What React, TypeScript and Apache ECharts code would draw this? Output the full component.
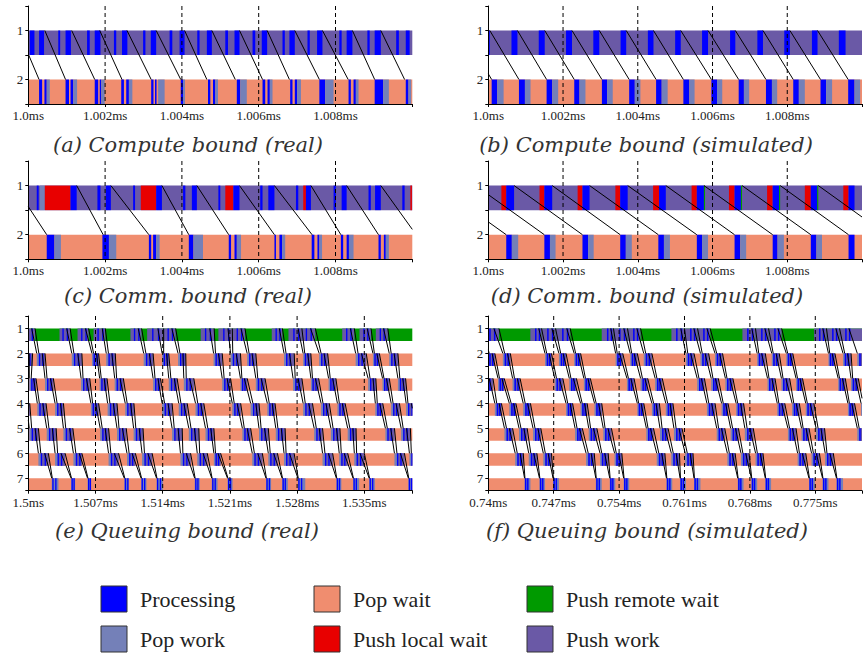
import React, { useEffect, useRef } from "react";
import * as echarts from "echarts";

// ---------------- states ----------------
const P = 0; // Processing
const W = 1; // Pop work
const A = 2; // Pop wait
const G = 3; // Push remote wait
const L = 4; // Push local wait
const U = 5; // Push work
const STATE_NAMES = ["Processing", "Pop work", "Pop wait", "Push remote wait", "Push local wait", "Push work"];
const STATE_COLORS = ["#0000ff", "#7480b8", "#f08d6f", "#009a00", "#e80000", "#6a59a6"];
const LEGEND_ORDER = [P, W, A, L, G, U];

// ---------------- tick labels / titles ----------------
const tickLabelsA = ["1.0ms", "1.002ms", "1.004ms", "1.006ms", "1.008ms"];
const tickLabelsE = ["1.5ms", "1.507ms", "1.514ms", "1.521ms", "1.528ms", "1.535ms"];
const tickLabelsF = ["0.74ms", "0.747ms", "0.754ms", "0.761ms", "0.768ms", "0.775ms"];
const rowLabels2 = ["1", "2"];
const rowLabels7 = ["1", "2", "3", "4", "5", "6", "7"];
const titles = [
  "(a) Compute bound (real)",
  "(b) Compute bound (simulated)",
  "(c) Comm. bound (real)",
  "(d) Comm. bound (simulated)",
  "(e) Queuing bound (real)",
  "(f) Queuing bound (simulated)",
];

// time unit: microseconds after the panel's first tick
type Seg = [number, number, number]; // start, end, state
type Msg = [number, number]; // send (row 1), receive (row 2)
type Cl = [number, number, number, number] | null; // start, end, 1st processing, 2nd processing

// ---------------- (a) compute bound, real ----------------
const aRow1: Seg[] = [
  [-1, 11, U],
  [0.04, 0.16, P], [0.28, 0.41, P], [0.78, 0.83, P], [0.97, 1.11, P], [1.53, 1.6, P], [1.73, 1.88, P],
  [2.23, 2.29, P], [2.44, 2.58, P], [2.99, 3.05, P], [3.19, 3.33, P], [3.68, 3.75, P], [3.94, 4.07, P],
  [4.4, 4.46, P], [4.65, 4.78, P], [5.13, 5.2, P], [5.37, 5.5, P], [5.84, 5.91, P], [6.08, 6.22, P],
  [6.62, 6.68, P], [6.8, 6.94, P], [7.27, 7.33, P], [7.52, 7.66, P], [8.1, 8.16, P], [8.29, 8.44, P],
  [8.83, 8.89, P], [9.02, 9.18, P], [9.58, 9.65, P], [9.83, 9.93, P],
];
const aRow2: Seg[] = [
  [-1, 11, A],
  [0.28, 0.36, P], [0.42, 0.48, P], [0.48, 0.56, W],
  [0.97, 1.06, P], [1.1, 1.17, P], [1.17, 1.27, W],
  [1.73, 1.82, P], [1.86, 1.9, P], [1.9, 1.99, W],
  [2.42, 2.49, P], [2.55, 2.62, P], [2.62, 2.71, W],
  [3.2, 3.26, P], [3.3, 3.34, P], [3.38, 3.55, W],
  [3.97, 4.03, P], [4.03, 4.08, W],
  [4.68, 4.74, P], [4.81, 4.87, P], [4.87, 4.94, W],
  [5.43, 5.52, P], [5.52, 5.69, W],
  [6.1, 6.17, P], [6.23, 6.29, P], [6.29, 6.36, W],
  [6.82, 6.88, P], [6.94, 7.0, P], [7.0, 7.1, W],
  [7.58, 7.73, P], [7.73, 7.95, W],
  [8.34, 8.4, P], [8.47, 8.53, P], [8.53, 8.6, W],
  [9.02, 9.24, P], [9.24, 9.39, W],
  [9.83, 9.9, P], [9.9, 9.97, W],
];
const aMsgs: Msg[] = [
  [-0.26, 0.28], [0.43, 0.97], [1.13, 1.73], [1.86, 2.44], [2.57, 3.2], [3.33, 3.97], [4.07, 4.65],
  [4.78, 5.39], [5.5, 6.1], [6.22, 6.8], [6.94, 7.58], [7.66, 8.33], [8.44, 9.02], [9.18, 9.8],
];

// ---------------- (b) compute bound, simulated ----------------
const bRow1: Seg[] = [
  [-1, 11, U],
  [-0.1, 0.04, P], [0.62, 0.78, P], [1.35, 1.51, P], [2.08, 2.24, P], [2.81, 2.97, P], [3.54, 3.69, P],
  [4.27, 4.42, P], [5.0, 5.15, P], [5.72, 5.88, P], [6.47, 6.61, P], [7.2, 7.35, P], [7.92, 8.07, P],
  [8.66, 8.81, P], [9.38, 9.56, P],
];
const bRow2: Seg[] = [
  [-1, 11, A],
  [0.09, 0.24, P], [0.24, 0.41, W], [0.82, 0.98, P], [0.98, 1.13, W], [1.56, 1.71, P], [1.71, 1.87, W],
  [2.3, 2.44, P], [2.44, 2.6, W], [3.04, 3.18, P], [3.18, 3.33, W], [3.77, 3.92, P], [3.92, 4.07, W],
  [4.49, 4.64, P], [4.64, 4.8, W], [5.22, 5.38, P], [5.38, 5.52, W], [5.97, 6.12, P], [6.12, 6.26, W],
  [6.7, 6.84, P], [6.84, 6.98, W], [7.43, 7.59, P], [7.59, 7.73, W], [8.16, 8.31, P], [8.31, 8.47, W],
  [8.89, 9.04, P], [9.04, 9.2, W], [9.63, 9.8, P], [9.8, 9.95, W],
];
const bMsgs: Msg[] = [
  [-0.69, 0.09], [0.04, 0.82], [0.78, 1.56], [1.51, 2.3], [2.24, 3.04], [2.97, 3.77], [3.69, 4.49],
  [4.42, 5.22], [5.15, 5.97], [5.88, 6.7], [6.61, 7.43], [7.35, 8.16], [8.07, 8.89], [8.81, 9.63],
];

// ---------------- (c) communication bound, real ----------------
const cRow1: Seg[] = [
  [-1, 11, U],
  [0.22, 0.27, P], [0.3, 0.43, W], [0.43, 1.1, L], [1.1, 1.26, P], [1.8, 1.88, P], [2.02, 2.15, P],
  [2.73, 2.78, P], [2.93, 3.33, L], [3.33, 3.48, P], [4.03, 4.09, P], [4.26, 4.39, P], [4.95, 5.0, P],
  [5.13, 5.34, L], [5.34, 5.5, P], [6.04, 6.1, P], [6.25, 6.41, P], [6.97, 7.03, P], [7.16, 7.23, L],
  [7.23, 7.36, P], [7.95, 8.01, P], [8.16, 8.29, P], [8.86, 8.92, P], [9.03, 9.18, P], [9.74, 9.8, P],
  [9.95, 9.99, L],
];
const cRow2: Seg[] = [
  [-1, 11, A],
  [0.48, 0.68, P], [0.68, 0.85, W],
  [1.93, 2.1, P], [2.1, 2.29, W],
  [3.14, 3.2, P], [3.25, 3.33, P], [3.33, 3.42, W],
  [4.18, 4.3, P], [4.3, 4.55, W],
  [5.22, 5.28, P], [5.37, 5.43, P], [5.43, 5.54, W],
  [6.41, 6.45, P], [6.54, 6.61, P], [6.61, 6.69, W],
  [7.38, 7.45, P], [7.53, 7.58, P], [7.58, 7.65, W],
  [8.14, 8.2, P], [8.29, 8.35, P], [8.35, 8.47, W],
  [9.12, 9.18, P], [9.26, 9.31, P], [9.31, 9.39, W],
];
const cMsgs: Msg[] = [
  [-0.36, 0.48], [1.26, 1.95], [2.15, 3.14], [3.48, 4.18], [4.39, 5.22], [5.5, 6.41], [6.41, 7.39],
  [7.36, 8.14], [8.29, 9.12], [9.18, 10.1],
];

// ---------------- (d) communication bound, simulated ----------------
const dRow1: Seg[] = [
  [-1, 11, U],
  [0.35, 0.48, L], [0.48, 0.69, P], [1.37, 1.5, L], [1.5, 1.71, P], [2.39, 2.52, L], [2.52, 2.71, P],
  [3.4, 3.53, L], [3.53, 3.73, P], [4.41, 4.57, L], [4.57, 4.75, P],
  [5.44, 5.58, L], [5.58, 5.77, P], [5.77, 5.8, G], [6.44, 6.59, L], [6.59, 6.76, P], [6.76, 6.79, G],
  [7.46, 7.61, L], [7.61, 7.78, P], [7.78, 7.81, G], [8.47, 8.63, L], [8.63, 8.8, P], [8.8, 8.83, G],
  [9.5, 9.64, L], [9.64, 9.8, P],
];
const dRow2: Seg[] = [
  [-1, 11, A],
  [0.48, 0.63, P], [0.63, 0.8, W], [1.5, 1.65, P], [1.65, 1.8, W], [2.52, 2.67, P], [2.67, 2.82, W],
  [3.53, 3.68, P], [3.68, 3.84, W], [4.55, 4.7, P], [4.7, 4.86, W], [5.58, 5.72, P], [5.72, 5.88, W],
  [6.59, 6.74, P], [6.74, 6.9, W], [7.61, 7.74, P], [7.74, 7.91, W], [8.63, 8.78, P], [8.78, 8.93, W],
  [9.64, 9.8, P],
];
const dMsgs: Msg[] = [
  [-1.36, 0.48], [-0.34, 1.5], [0.69, 2.52], [1.71, 3.53], [2.71, 4.55], [3.73, 5.58], [4.75, 6.59],
  [5.77, 7.61], [6.79, 8.63], [7.81, 9.64], [8.83, 10.66],
];

// ---------------- (e) queuing bound, real: work clusters per node, aligned by message group ----------------
const eNode1: Cl[] = [
  [-4.7, -3.5, -4.3, -3.9], [-2.2, -1.1, -1.8, -1.4], [-0.5, 0.7, -0.1, 0.35],
  [3.25, 4.36, 3.55, 4.0], [5.13, 6.28, 5.5, 5.95], [6.8, 8.02, 7.2, 7.7],
  [10.64, 11.8, 11.0, 11.45], [12.38, 14.1, 12.9, 13.5], [14.1, 15.35, 14.5, 14.95],
  [17.96, 19.36, 18.4, 18.9], [19.8, 21.25, 20.3, 20.8], [21.25, 22.57, 21.7, 22.15],
  [25.36, 26.47, 25.75, 26.15], [27.1, 28.5, 27.6, 28.1], [28.5, 29.9, 28.9, 29.4],
  [32.7, 33.96, 33.1, 33.55], [34.5, 35.7, 34.9, 35.3], [36.2, 37.45, 36.6, 37.0],
];
const eNode2: Cl[] = [
  [-3.3, -2.4, -3.0, -2.7], [-0.45, 0.45, -0.2, 0.1], [0.88, 1.74, 1.1, 1.45],
  [4.53, 5.58, 4.75, 5.15], [6.63, 7.32, 6.8, 7.1], [8.12, 9.06, 8.35, 8.7],
  [12.02, 13.0, 12.25, 12.6], [13.94, 14.63, 14.1, 14.4], [15.6, 16.4, 15.8, 16.1],
  [19.3, 20.2, 19.5, 19.8], [21.07, 22.1, 21.3, 21.65], [22.8, 23.7, 23.0, 23.3],
  [26.64, 27.7, 26.85, 27.2], [28.63, 29.43, 28.8, 29.1], [30.3, 31.18, 30.5, 30.8],
  [34.1, 35.2, 34.35, 34.7], [35.9, 36.57, 36.05, 36.3], [37.6, 38.5, 37.8, 38.1],
];
const eNode3: Cl[] = [
  [-2.3, -1.4, -2.0, -1.7], [0.1, 0.8, 0.3, 0.55], [1.74, 2.61, 1.95, 2.3],
  [5.5, 6.4, 5.7, 6.05], [7.43, 8.2, 7.6, 7.9], [9.0, 9.9, 9.2, 9.55],
  [13.0, 13.76, 13.2, 13.5], [14.63, 15.5, 14.85, 15.2], [16.2, 17.24, 16.45, 16.8],
  [20.2, 21.07, 20.4, 20.7], [22.1, 22.8, 22.25, 22.5], [23.7, 24.66, 23.9, 24.25],
  [27.58, 28.5, 27.8, 28.1], [29.44, 30.24, 29.6, 29.9], [31.28, 32.04, 31.45, 31.7],
  [35.4, 36.2, 35.6, 35.9], [36.9, 37.6, 37.05, 37.3], [38.5, 39.3, 38.7, 39.0],
];
const eNode4: Cl[] = [
  [-0.8, 0.15, -0.5, -0.2], [0.94, 1.85, 1.15, 1.5], [2.79, 3.66, 3.0, 3.35],
  [6.52, 7.32, 6.7, 7.0], [8.26, 9.24, 8.5, 8.85], [10.1, 11.0, 10.3, 10.65],
  [13.94, 14.98, 14.2, 14.55], [15.67, 16.55, 15.9, 16.2], [17.42, 18.28, 17.65, 17.95],
  [21.25, 22.12, 21.45, 21.75], [23.16, 24.03, 23.4, 23.7], [24.9, 25.7, 25.1, 25.4],
  [28.63, 29.6, 28.85, 29.2], [30.5, 31.35, 30.7, 31.0], [32.2, 33.0, 32.4, 32.7],
  [36.15, 36.92, 36.35, 36.6], [37.8, 38.66, 38.0, 38.3], [39.36, 40.3, 39.55, 39.9],
];
const eNode5: Cl[] = [
  [0.1, 1.05, 0.35, 0.7], [1.92, 2.9, 2.15, 2.5], [3.66, 4.64, 3.9, 4.3],
  [7.49, 8.36, 7.7, 8.0], [9.24, 10.2, 9.45, 9.8], [10.97, 11.95, 11.2, 11.55],
  [14.98, 16.03, 15.2, 15.6], [16.72, 17.76, 16.95, 17.3], [18.46, 19.33, 18.7, 19.0],
  [22.3, 23.16, 22.5, 22.8], [24.03, 25.0, 24.25, 24.6], [25.78, 26.75, 26.0, 26.35],
  [29.78, 30.65, 30.0, 30.3], [31.52, 32.46, 31.75, 32.1], [33.27, 34.14, 33.5, 33.8],
  [37.2, 38.14, 37.4, 37.75], [38.84, 39.8, 39.05, 39.4], [40.4, 41.3, 40.6, 40.9],
];
const eNode6: Cl[] = [
  [1.05, 2.09, 1.3, 1.7], [2.79, 3.83, 3.05, 3.4], [4.7, 5.58, 4.95, 5.3],
  [8.36, 9.4, 8.6, 8.95], [10.28, 11.15, 10.5, 10.8], [11.85, 12.9, 12.1, 12.45],
  [15.85, 16.9, 16.1, 16.45], [17.6, 18.64, 17.85, 18.2], [19.33, 20.03, 19.5, 19.75],
  [23.33, 24.38, 23.55, 23.9], [25.0, 25.95, 25.2, 25.55], [26.64, 27.69, 26.85, 27.2],
  [30.65, 31.7, 30.9, 31.25], [32.39, 33.27, 32.6, 32.9], [33.96, 35.0, 34.2, 34.55],
  [38.14, 39.18, 38.4, 38.75], [39.7, 40.6, 39.9, 40.2], [41.4, 42.3, 41.6, 41.9],
];
const eNode7: Cl[] = [
  [2.44, 3.14, 2.5, 2.8], [4.46, 4.88, 4.5, 4.7], [6.17, 6.52, 6.22, 6.4],
  [10.0, 10.46, 10.05, 10.3], [11.75, 12.31, 11.8, 12.05], [13.36, 14.02, 13.4, 13.7],
  [17.33, 17.86, 17.38, 17.6], [19.11, 19.71, 19.15, 19.4], [20.75, 21.28, 20.8, 21.0],
  [24.76, 25.29, 24.8, 25.05], [26.44, 27.03, 26.48, 26.7], [28.08, 28.85, 28.12, 28.4],
  [32.09, 32.61, 32.13, 32.35], [33.83, 34.46, 33.87, 34.1], [35.51, 36.1, 35.55, 35.8],
  [39.59, 40.1, 39.63, 39.85], [41.2, 41.7, 41.25, 41.45], [43.0, 43.5, 43.05, 43.3],
];

// ---------------- (f) queuing bound, simulated ----------------
const fNode1: Cl[] = [
  [-3.0, -1.8, -2.6, -2.2], [-1.8, -0.6, -1.4, -1.0], [-0.6, 1.14, 0.1, 0.6],
  [4.5, 5.7, 5.0, 5.4], [5.7, 7.2, 6.3, 6.8], [7.2, 8.77, 7.9, 8.4],
  [12.14, 13.4, 12.7, 13.1], [13.4, 14.9, 14.0, 14.5], [14.9, 16.3, 15.5, 15.9],
  [19.6, 21.0, 20.1, 20.6], [21.0, 22.4, 21.6, 22.0], [22.4, 23.75, 23.0, 23.4],
  [27.2, 28.6, 27.7, 28.2], [28.6, 30.0, 29.2, 29.6], [30.0, 31.4, 30.6, 31.0],
  [34.87, 36.2, 35.4, 35.8], [36.2, 37.6, 36.8, 37.2], [37.6, 40.5, 38.2, 38.6],
];
const fNode2: Cl[] = [
  [-1.6, -0.85, -1.4, -1.15], [-0.1, 0.7, 0.1, 0.4], [1.56, 2.36, 1.75, 2.05],
  [6.07, 6.76, 6.25, 6.5], [7.56, 8.32, 7.75, 8.0], [9.19, 9.88, 9.35, 9.6],
  [13.63, 14.39, 13.8, 14.05], [15.19, 15.95, 15.35, 15.6], [16.64, 17.51, 16.85, 17.15],
  [21.15, 22.02, 21.35, 21.65], [22.71, 23.58, 22.9, 23.2], [24.27, 25.07, 24.45, 24.75],
  [28.78, 29.65, 28.95, 29.25], [30.34, 31.14, 30.5, 30.8], [31.9, 32.59, 32.05, 32.3],
  [36.41, 37.1, 36.55, 36.8], [37.97, 38.83, 38.15, 38.45], [39.5, 40.3, 39.7, 40.0],
];
const fNode3: Cl[] = [
  [-0.4, 0.5, -0.2, 0.1], [1.04, 1.7, 1.2, 1.45], [2.6, 3.4, 2.8, 3.1],
  [7.11, 7.98, 7.3, 7.6], [8.67, 9.43, 8.85, 9.1], [10.23, 10.92, 10.4, 10.65],
  [14.84, 15.6, 15.0, 15.25], [16.3, 17.06, 16.5, 16.75], [17.86, 18.62, 18.05, 18.3],
  [22.36, 23.13, 22.55, 22.8], [23.86, 24.62, 24.05, 24.3], [25.38, 26.18, 25.55, 25.85],
  [29.89, 30.69, 30.05, 30.35], [31.38, 32.25, 31.55, 31.85], [32.94, 33.63, 33.1, 33.35],
  [37.45, 38.21, 37.6, 37.9], [38.83, 39.6, 39.0, 39.3], [40.5, 41.3, 40.7, 41.0],
];
const fNode4: Cl[] = [
  [0.7, 1.4, 0.9, 1.15], [2.25, 2.95, 2.45, 2.7], [3.74, 4.51, 3.95, 4.2],
  [8.32, 9.02, 8.5, 8.75], [9.88, 10.58, 10.05, 10.3], [11.37, 12.14, 11.55, 11.8],
  [15.95, 16.64, 16.1, 16.35], [17.51, 18.31, 17.7, 17.95], [19.0, 19.76, 19.2, 19.45],
  [23.4, 24.27, 23.6, 23.9], [24.97, 25.66, 25.15, 25.4], [26.53, 27.32, 26.7, 27.0],
  [30.93, 31.73, 31.1, 31.4], [32.52, 33.29, 32.7, 32.95], [33.98, 34.85, 34.15, 34.45],
  [38.49, 39.2, 38.65, 38.9], [39.9, 40.7, 40.1, 40.4], [41.6, 42.4, 41.8, 42.1],
];
const fNode5: Cl[] = [
  [1.73, 2.6, 1.95, 2.25], [3.29, 4.16, 3.5, 3.8], [4.79, 5.62, 5.0, 5.3],
  [9.29, 10.06, 9.5, 9.75], [10.75, 11.62, 10.95, 11.25], [12.31, 13.18, 12.5, 12.8],
  [16.92, 17.68, 17.1, 17.35], [18.38, 19.24, 18.6, 18.9], [19.87, 20.73, 20.1, 20.4],
  [24.45, 25.31, 24.65, 24.95], [25.94, 26.77, 26.15, 26.45], [27.46, 28.36, 27.7, 28.0],
  [32.07, 32.94, 32.25, 32.55], [33.53, 34.33, 33.7, 34.0], [35.09, 35.99, 35.3, 35.6],
  [39.5, 40.4, 39.7, 40.0], [41.0, 41.8, 41.2, 41.5], [42.6, 43.4, 42.8, 43.1],
];
const fNode6: Cl[] = [
  [2.88, 3.74, 3.1, 3.4], [4.33, 5.2, 4.55, 4.85], [5.89, 6.76, 6.1, 6.4],
  [10.47, 11.34, 10.7, 11.0], [11.96, 12.83, 12.15, 12.45], [13.52, 14.29, 13.7, 13.95],
  [18.03, 18.9, 18.25, 18.55], [19.59, 20.46, 19.8, 20.1], [21.08, 21.91, 21.3, 21.6],
  [25.59, 26.42, 25.8, 26.1], [27.05, 27.91, 27.25, 27.55], [28.61, 29.4, 28.8, 29.1],
  [33.11, 33.98, 33.3, 33.6], [34.6, 35.44, 34.8, 35.1], [36.06, 36.93, 36.25, 36.55],
  [40.6, 41.4, 40.8, 41.1], [42.1, 42.9, 42.3, 42.6], [43.7, 44.5, 43.9, 44.2],
];
const fNode7: Cl[] = [
  [3.88, 4.51, 3.92, 4.15], [5.48, 6.07, 5.52, 5.75], [6.93, 7.56, 6.97, 7.2],
  [11.51, 12.14, 11.55, 11.8], [13.0, 13.59, 13.04, 13.25], [14.49, 15.08, 14.53, 14.75],
  [19.07, 19.69, 19.11, 19.35], [20.53, 21.15, 20.57, 20.8], [22.02, 22.71, 22.06, 22.3],
  [26.7, 27.32, 26.74, 26.95], [28.16, 28.78, 28.2, 28.42], [29.65, 30.27, 29.69, 29.9],
  [34.33, 34.95, 34.37, 34.6], [35.78, 36.41, 35.82, 36.05], [37.27, 37.97, 37.31, 37.55],
  [41.6, 42.2, 41.64, 41.85], [43.2, 43.8, 43.24, 43.45], [44.7, 45.3, 44.74, 44.95],
];

// ---------------- layout (style, not data) ----------------
const PLOT_W = 384;
const TICK_FONT = "'Liberation Serif', 'Times New Roman', serif";
const TITLE_FONT = "'DejaVu Serif', serif";

type Panel = {
  left: number; top: number; height: number; max: number; interval: number;
  ticks: string[]; rowLabels: string[]; titleX: number; titleY: number;
  segs: number[][]; lines: number[][];
};

function simpleSegs(rows: Seg[][]) {
  const out: number[][] = [];
  rows.forEach((row, ri) => row.forEach(([s, e, st]) => out.push([ri + 1, s, e, st])));
  return out;
}
function simpleLines(msgs: Msg[]) {
  return msgs.map(([t0, t1]) => [t0, 1, t1, 2]);
}
function clusterSegs(nodes: Cl[][], procW: number) {
  const out: number[][] = [];
  const n = nodes.length;
  nodes.forEach((row, ri) => {
    const r = ri + 1;
    out.push([r, -5, 50, r === 1 ? G : A]);
    row.forEach((c) => {
      if (!c) return;
      const [s, e, b1, b2] = c;
      if (r === 1) out.push([r, s, e, U]);
      else if (r === n) out.push([r, s, e, W]);
      else {
        out.push([r, s, e, W]);
        out.push([r, b1, e, U]);
      }
      out.push([r, b1, b1 + procW, P]);
      out.push([r, b2, b2 + procW, P]);
    });
  });
  return out;
}
// messages hop from one node's cluster to the same group's cluster on the next node
function clusterLines(nodes: Cl[][]) {
  const out: number[][] = [];
  for (let k = 0; k < nodes.length - 1; k++) {
    const a = nodes[k], b = nodes[k + 1];
    for (let g = 0; g < a.length; g++) {
      const c0 = a[g], c1 = b[g];
      if (!c0 || !c1) continue;
      out.push([c0[3], k + 1, c1[0], k + 2]);
      out.push([c0[1], k + 1, c1[2], k + 2]);
    }
  }
  return out;
}

const eNodes = [eNode1, eNode2, eNode3, eNode4, eNode5, eNode6, eNode7];
const fNodes = [fNode1, fNode2, fNode3, fNode4, fNode5, fNode6, fNode7];

const PANELS: Panel[] = [
  { left: 28.3, top: 6, height: 98, max: 10, interval: 2, ticks: tickLabelsA, rowLabels: rowLabels2, titleX: 188, titleY: 145,
    segs: simpleSegs([aRow1, aRow2]), lines: simpleLines(aMsgs) },
  { left: 488.3, top: 6, height: 98, max: 10, interval: 2, ticks: tickLabelsA, rowLabels: rowLabels2, titleX: 646, titleY: 145,
    segs: simpleSegs([bRow1, bRow2]), lines: simpleLines(bMsgs) },
  { left: 28.3, top: 161, height: 98.3, max: 10, interval: 2, ticks: tickLabelsA, rowLabels: rowLabels2, titleX: 188, titleY: 296,
    segs: simpleSegs([cRow1, cRow2]), lines: simpleLines(cMsgs) },
  { left: 488.3, top: 161, height: 98.3, max: 10, interval: 2, ticks: tickLabelsA, rowLabels: rowLabels2, titleX: 647, titleY: 296,
    segs: simpleSegs([dRow1, dRow2]), lines: simpleLines(dMsgs) },
  { left: 28.3, top: 316, height: 174.7, max: 40, interval: 7, ticks: tickLabelsE, rowLabels: rowLabels7, titleX: 187, titleY: 531,
    segs: clusterSegs(eNodes, 0.14), lines: clusterLines(eNodes) },
  { left: 488.3, top: 316, height: 174.7, max: 40, interval: 7, ticks: tickLabelsF, rowLabels: rowLabels7, titleX: 647, titleY: 531,
    segs: clusterSegs(fNodes, 0.16), lines: clusterLines(fNodes) },
];

function buildOption() {
  const grid: any[] = [];
  const xAxis: any[] = [];
  const yAxis: any[] = [];
  const series: any[] = [];
  const graphic: any[] = [];

  PANELS.forEach((p, i) => {
    const ymax = p.rowLabels.length * 2;
    grid.push({ left: p.left, top: p.top, width: PLOT_W, height: p.height, containLabel: false });
    xAxis.push({
      gridIndex: i, type: "value", min: 0, max: p.max, interval: p.interval, z: 10,
      axisLine: { show: true, onZero: false, lineStyle: { color: "#000", width: 1 } },
      axisTick: { show: true, length: 3, lineStyle: { color: "#000" } },
      splitLine: { show: false },
      axisLabel: {
        margin: 5, fontFamily: TICK_FONT, fontSize: 13, color: "#222",
        formatter: (v: number) => {
          const k = v / p.interval;
          if (Math.abs(k - Math.round(k)) > 1e-6) return "";
          return p.ticks[Math.round(k)] ?? "";
        },
      },
    });
    yAxis.push({
      gridIndex: i, type: "value", min: 0, max: ymax, interval: 1, inverse: true, z: 10,
      axisLine: { show: true, onZero: false, lineStyle: { color: "#000", width: 1 } },
      axisTick: { show: true, length: 3, lineStyle: { color: "#000" } },
      splitLine: { show: false },
      axisLabel: {
        margin: 5, fontFamily: TICK_FONT, fontSize: 13, color: "#222",
        formatter: (v: number) => (Math.round(v) % 2 === 1 ? p.rowLabels[(Math.round(v) - 1) / 2] ?? "" : ""),
      },
    });

    const xmin = 0, xmax = p.max;
    series.push({
      type: "custom", xAxisIndex: i, yAxisIndex: i, z: 2, silent: true,
      data: p.segs,
      renderItem: (params: any, api: any) => {
        const r = api.value(0), s = api.value(1), e = api.value(2), st = api.value(3);
        const s2 = Math.max(s, xmin), e2 = Math.min(e, xmax);
        if (e2 <= s2) return null;
        const p0 = api.coord([s2, 2 * r - 1]);
        const p1 = api.coord([e2, 2 * r]);
        return {
          type: "rect",
          shape: { x: p0[0], y: Math.min(p0[1], p1[1]), width: p1[0] - p0[0], height: Math.abs(p1[1] - p0[1]) },
          style: { fill: STATE_COLORS[st] },
        };
      },
    });
    series.push({
      type: "custom", xAxisIndex: i, yAxisIndex: i, z: 3, silent: true,
      data: p.lines,
      renderItem: (params: any, api: any) => {
        let t0 = api.value(0), t1 = api.value(2);
        let y0 = 2 * api.value(1) - 1, y1 = 2 * api.value(3) - 1;
        if (t1 < xmin || t0 > xmax) return null;
        const ot0 = t0, ot1 = t1, oy0 = y0, oy1 = y1;
        if (ot0 < xmin) { y0 = oy0 + (oy1 - oy0) * (xmin - ot0) / (ot1 - ot0); t0 = xmin; }
        if (ot1 > xmax) { y1 = oy0 + (oy1 - oy0) * (xmax - ot0) / (ot1 - ot0); t1 = xmax; }
        const a = api.coord([t0, y0]);
        const b = api.coord([t1, y1]);
        return { type: "line", shape: { x1: a[0], y1: a[1], x2: b[0], y2: b[1] }, style: { stroke: "#000", lineWidth: 1 } };
      },
    });
    const vl: number[][] = [];
    for (let k = 1; k < p.ticks.length; k++) vl.push([k * p.interval]);
    series.push({
      type: "custom", xAxisIndex: i, yAxisIndex: i, z: 4, silent: true,
      data: vl,
      renderItem: (params: any, api: any) => {
        const v = api.value(0);
        const a = api.coord([v, 0]);
        const b = api.coord([v, ymax]);
        return { type: "line", shape: { x1: a[0], y1: a[1], x2: b[0], y2: b[1] }, style: { stroke: "#000", lineWidth: 1, lineDash: [4, 3] } };
      },
    });

    graphic.push({
      type: "text", x: p.titleX, y: p.titleY, silent: true,
      style: {
        text: titles[i], fill: "#333", fontFamily: TITLE_FONT, fontStyle: "italic", fontSize: 21,
        align: "center", verticalAlign: "middle", textAlign: "center", textVerticalAlign: "middle",
      },
    });
  });

  const colX = [101, 314, 527];
  const rowY = [586, 626];
  LEGEND_ORDER.forEach((st, i) => {
    const cx = colX[Math.floor(i / 2)];
    const ry = rowY[i % 2];
    graphic.push({
      type: "rect", x: cx, y: ry, silent: true,
      shape: { x: 0, y: 0, width: 26, height: 26 },
      style: { fill: STATE_COLORS[st], stroke: "#333", lineWidth: 1 },
    });
    graphic.push({
      type: "text", x: cx + 39, y: ry + 13, silent: true,
      style: {
        text: STATE_NAMES[st], fill: "#222", fontFamily: TICK_FONT, fontSize: 22,
        align: "left", verticalAlign: "middle", textAlign: "left", textVerticalAlign: "middle",
      },
    });
  });

  return { animation: false, backgroundColor: "#fff", grid, xAxis, yAxis, series, graphic };
}

export default function App() {
  const ref = useRef<HTMLDivElement>(null);
  useEffect(() => {
    if (!ref.current) return;
    const chart = echarts.init(ref.current, null, { renderer: "svg" });
    chart.setOption(buildOption() as any);
    return () => chart.dispose();
  }, []);
  return <div ref={ref} style={{ position: "fixed", left: 0, top: 0, width: 865, height: 654 }} />;
}
